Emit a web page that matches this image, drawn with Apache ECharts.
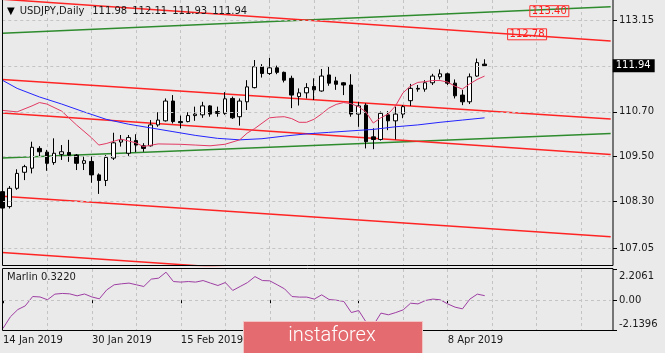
<!DOCTYPE html>
<html><head><meta charset="utf-8">
<script src="https://cdn.jsdelivr.net/npm/echarts@6/dist/echarts.min.js"></script>
<style>html,body{margin:0;padding:0;background:#eaeaea}#c{width:665px;height:353px}</style>
</head><body><div id="c"></div>
<script>
// ---------- data ----------
const symbol = 'USDJPY';
const period = 'Daily';
const barDates = ['14 Jan 2019','15 Jan 2019','16 Jan 2019','17 Jan 2019','18 Jan 2019','21 Jan 2019','22 Jan 2019','23 Jan 2019','24 Jan 2019','25 Jan 2019',
 '28 Jan 2019','29 Jan 2019','30 Jan 2019','31 Jan 2019','1 Feb 2019','4 Feb 2019','5 Feb 2019','6 Feb 2019','7 Feb 2019','8 Feb 2019',
 '11 Feb 2019','12 Feb 2019','13 Feb 2019','14 Feb 2019','15 Feb 2019','18 Feb 2019','19 Feb 2019','20 Feb 2019','21 Feb 2019','22 Feb 2019',
 '25 Feb 2019','26 Feb 2019','27 Feb 2019','28 Feb 2019','1 Mar 2019','4 Mar 2019','5 Mar 2019','6 Mar 2019','7 Mar 2019','8 Mar 2019',
 '11 Mar 2019','12 Mar 2019','13 Mar 2019','14 Mar 2019','15 Mar 2019','18 Mar 2019','19 Mar 2019','20 Mar 2019','21 Mar 2019','22 Mar 2019',
 '25 Mar 2019','26 Mar 2019','27 Mar 2019','28 Mar 2019','29 Mar 2019','1 Apr 2019','2 Apr 2019','3 Apr 2019','4 Apr 2019','5 Apr 2019',
 '8 Apr 2019','9 Apr 2019','10 Apr 2019','11 Apr 2019','12 Apr 2019','15 Apr 2019'];
const openP  = [108.56,108.16,108.65,109.08,109.19,109.72,109.62,109.34,109.56,109.61,109.54,109.32,109.37,109.01,108.86,109.46,109.89,109.59,109.93,109.79,
 109.79,110.35,110.46,110.99,110.44,110.44,110.60,110.62,110.86,110.71,110.66,111.06,110.57,110.97,111.35,111.91,111.73,111.88,111.76,111.60,
 111.11,111.21,111.38,111.26,111.69,111.53,111.48,111.42,110.64,110.88,110.03,109.96,110.62,110.46,110.64,111.00,111.33,111.31,111.48,111.64,
 111.72,111.47,111.15,110.97,111.66,111.98];
const highP  = [108.60,108.71,109.16,109.28,109.90,109.78,109.68,109.99,109.81,109.95,109.57,109.50,109.50,109.05,109.54,110.14,110.08,110.08,110.10,109.86,
 110.48,110.69,111.06,111.15,110.60,110.69,110.84,110.97,110.88,110.84,111.23,111.11,111.06,111.55,112.09,111.98,112.15,111.94,111.78,111.67,
 111.33,111.47,111.60,111.85,111.91,111.64,111.50,111.71,110.97,110.93,110.26,110.71,110.72,110.84,110.88,111.45,111.42,111.55,111.72,111.84,
 111.75,111.57,111.29,111.73,112.13,112.11];
const lowP   = [107.99,108.11,108.61,108.87,109.05,109.50,109.12,109.28,109.41,109.36,109.14,109.14,108.80,108.50,108.71,109.41,109.77,109.52,109.62,109.63,
 109.77,110.30,110.44,110.39,110.26,110.42,110.46,110.54,110.57,110.57,110.62,110.51,110.33,110.75,111.33,111.62,111.69,111.71,111.49,110.80,
 110.87,111.06,111.02,111.24,111.40,111.29,111.15,110.57,110.30,109.72,109.70,109.93,110.21,109.96,110.53,110.86,111.24,111.24,111.42,111.57,
 111.42,111.06,110.88,110.91,111.64,111.93];
const closeP = [108.12,108.65,109.05,109.23,109.75,109.63,109.32,109.59,109.63,109.54,109.32,109.39,109.01,108.86,109.48,109.87,109.95,110.01,109.81,109.72,
 110.35,110.48,110.99,110.44,110.41,110.60,110.64,110.86,110.64,110.66,111.05,110.54,110.99,111.37,111.91,111.73,111.88,111.76,111.55,111.15,
 111.21,111.35,111.29,111.66,111.47,111.44,111.42,110.64,110.86,109.90,109.96,110.66,110.46,110.64,110.84,111.33,111.31,111.48,111.66,111.72,
 111.47,111.13,110.97,111.64,112.02,111.94];
// moving averages: [bar index, price]
const maBlue = [[0,111.55],[2,111.33],[5,111.10],[8,110.91],[11,110.70],[14,110.50],[17,110.37],[20,110.27],[23,110.17],[26,110.07],[29,109.99],
 [32,109.95],[35,109.98],[38,110.05],[41,110.11],[44,110.15],[47,110.19],[50,110.23],[53,110.30],[56,110.35],[59,110.42],[62,110.48],[65,110.54]];
const maPink = [[0,110.74],[2,110.70],[4,110.86],[5,110.95],[6,110.91],[8,110.72],[10,110.35],[12,110.01],[13,109.81],[14,109.85],[16,109.97],[18,109.87],
 [19,109.77],[21,109.84],[24,109.83],[26,109.81],[28,109.79],[30,109.83],[32,109.95],[33,110.13],[34,110.25],[36,110.54],[37,110.56],[38,110.57],[39,110.52],
 [40,110.42],[41,110.42],[42,110.50],[43,110.64],[44,110.80],[45,110.90],[46,110.95],[47,110.92],[48,110.84],[49,110.70],[50,110.40],[51,110.54],[52,110.64],
 [53,110.86],[54,111.21],[55,111.39],[56,111.49],[57,111.51],[58,111.54],[59,111.54],[60,111.50],[61,111.39],[62,111.31],[63,111.45],[64,111.57],[65,111.66]];
// trend lines: two end points [bar index, price]
const redLineA = [[0,113.72],[82,112.60]];
const redLineB = [[0,111.57],[82,110.51]];
const redLineC = [[0,110.67],[82,109.56]];
const redLineD = [[0,108.44],[82,107.35]];
const redLineE = [[0,106.93],[82,105.82]];
const greenLineA = [[0,112.81],[82,113.52]];
const greenLineB = [[0,109.46],[82,110.12]];
const priceTags = [[74,113.40],[71,112.78]];
// indicator
const marlin = [-1.99,-1.17,-0.66,-0.40,0.26,0.23,0.03,0.43,0.48,0.45,0.31,0.44,0.23,0.10,0.73,1.09,1.16,1.21,1.09,0.97,
 1.49,1.56,1.98,1.32,1.28,1.32,1.28,1.39,1.21,1.04,1.25,0.69,0.97,1.25,1.67,1.39,1.37,1.09,0.80,0.26,
 0.22,0.22,0.08,0.38,0.05,0.00,-0.09,-0.87,-0.73,-1.55,-1.75,-0.91,-1.03,-0.87,-0.68,-0.21,-0.26,-0.02,0.08,0.03,
 -0.26,-0.49,-0.61,0.08,0.43,0.322];
// axes
const yTickLabels = [113.15,110.70,109.50,108.30,107.05];
const yGridLevels = [113.15,111.93,110.70,109.50,108.30,107.05];
const marlinTicks = [2.2061,0,-2.1396];
const futureSlots = 17;

// ---------- chart ----------
const FONT = 'DejaVu Sans', TXT = '#1a1a1a', GRIDC = '#c4c4c4';
const cats = barDates.concat(Array.from({length: futureSlots}, (_, k) => '+' + (k + 1)));
const ohlc = barDates.map((d, i) => [openP[i], closeP[i], lowP[i], highP[i]]);
const last = barDates.length - 1;
const f2 = v => v.toFixed(2);
const gridL = 2.3, gridRpx = 610.7, axisOff = 2.3;
const txt = {fontFamily: FONT, fontSize: 10, fontWeight: 'normal', color: TXT};

function trend(data, color) {
  return {type: 'line', xAxisIndex: 0, yAxisIndex: 0, data: data, showSymbol: false, silent: true, z: 2,
    lineStyle: {color: color, width: 1.5}, clip: true};
}

const option = {
  backgroundColor: '#eaeaea',
  animation: false,
  title: [
    {left: 7, top: 6, padding: 0,
      text: '{tri|▼}\u2002{t|' + symbol + ',' + period + '} \u2002{t|' + [openP[last], highP[last], lowP[last], closeP[last]].map(f2).join('\u2002') + '}',
      textStyle: {fontWeight: 'normal', fontSize: 10, rich: {tri: {fontFamily: FONT, fontSize: 10, fontWeight: 'normal', color: '#000'}, t: txt}}},
    {left: 7, top: 272, padding: 0, text: 'Marlin ' + marlin[last].toFixed(4), textStyle: txt}
  ],
  grid: [
    {left: gridL, right: 665 - gridRpx, top: 0, height: 265.5},
    {left: gridL, right: 665 - gridRpx, top: 269, height: 61.5}
  ],
  xAxis: [
    {type: 'category', gridIndex: 0, data: cats, boundaryGap: false, axisLine: {show: false}, axisTick: {show: false}, axisLabel: {show: false},
      splitLine: {show: true, interval: (i) => i > 0 && i % 6 === 0, lineStyle: {type: [3, 3], color: GRIDC}}},
    {type: 'category', gridIndex: 1, data: cats, boundaryGap: false, axisLine: {show: false},
      axisTick: {show: true, interval: (i) => i % 12 === 0 && i <= last, length: 3, lineStyle: {color: '#000'}},
      axisLabel: {show: true, interval: (i) => i % 12 === 0 && i <= last, align: 'left', margin: 5, fontFamily: FONT, fontSize: 10, color: TXT},
      splitLine: {show: true, interval: (i) => i > 0 && i % 6 === 0, lineStyle: {type: [3, 3], color: GRIDC}}}
  ],
  yAxis: [
    {type: 'value', gridIndex: 0, position: 'right', offset: axisOff, min: 106.58, max: 113.70, scale: true,
      axisLine: {show: false}, splitLine: {show: false},
      axisTick: {show: true, customValues: yTickLabels, length: 4, lineStyle: {color: '#000'}},
      axisLabel: {show: true, customValues: yTickLabels, formatter: v => v.toFixed(2), margin: 6, fontFamily: FONT, fontSize: 10, color: TXT}},
    {type: 'value', gridIndex: 1, position: 'right', offset: axisOff, min: marlinTicks[2], max: marlinTicks[0],
      axisLine: {show: false}, splitLine: {show: false},
      axisTick: {show: true, customValues: marlinTicks, length: 4, lineStyle: {color: '#000'}},
      axisLabel: {show: true, customValues: marlinTicks, margin: 6, fontFamily: FONT, fontSize: 10, color: TXT,
        formatter: v => v > 0 ? '{t|' + v.toFixed(4) + '}' : (v < 0 ? '{b|' + v.toFixed(4) + '}' : v.toFixed(2)),
        rich: {t: {padding: [14, 0, 0, 0], fontFamily: FONT, fontSize: 10, color: TXT}, b: {padding: [0, 0, 13, 0], fontFamily: FONT, fontSize: 10, color: TXT}}}}
  ],
  series: [
    {type: 'line', xAxisIndex: 0, yAxisIndex: 0, data: [], z: 1, silent: true,
      markLine: {silent: true, symbol: 'none', label: {show: false}, lineStyle: {type: [3, 3], color: GRIDC, width: 1},
        data: yGridLevels.map(v => ({yAxis: v}))}},
    {type: 'line', xAxisIndex: 1, yAxisIndex: 1, data: [], z: 1, silent: true,
      markLine: {silent: true, symbol: 'none', label: {show: false}, lineStyle: {type: [3, 3], color: GRIDC, width: 1},
        data: [{yAxis: 0}]}},
    trend(greenLineA, '#2e8b2e'), trend(greenLineB, '#2e8b2e'),
    trend(redLineA, '#ff2424'), trend(redLineB, '#ff2424'), trend(redLineC, '#ff2424'), trend(redLineD, '#ff2424'), trend(redLineE, '#ff2424'),
    {type: 'candlestick', xAxisIndex: 0, yAxisIndex: 0, data: ohlc, barWidth: 4, z: 3, clip: true,
      itemStyle: {color: '#ffffff', color0: '#000000', borderColor: '#000000', borderColor0: '#000000', borderWidth: 1}},
    {type: 'line', xAxisIndex: 0, yAxisIndex: 0, data: [], z: 6, silent: true,
      markLine: {silent: true, symbol: 'none', lineStyle: {width: 0, color: 'rgba(0,0,0,0)'},
        label: {show: true, position: 'end', distance: 2, formatter: () => f2(closeP[last]), color: '#ffffff', backgroundColor: '#000000',
          padding: [2, 4, 1, 3], fontFamily: FONT, fontSize: 10},
        data: [{yAxis: closeP[last]}]}},
    {type: 'line', xAxisIndex: 0, yAxisIndex: 0, data: maBlue, showSymbol: false, z: 4, lineStyle: {color: '#2424ff', width: 1}},
    {type: 'line', xAxisIndex: 0, yAxisIndex: 0, data: maPink, showSymbol: false, z: 4, lineStyle: {color: '#e23a63', width: 1}},
    {type: 'line', xAxisIndex: 0, yAxisIndex: 0, data: [], z: 7, silent: true,
      markPoint: {silent: true, symbol: 'rect', symbolSize: 1, itemStyle: {color: 'rgba(0,0,0,0)'},
        label: {show: true, position: 'inside', offset: [-2, 0], formatter: p => f2(p.data.coord[1]), color: '#ff1a1a',
          borderColor: '#ff3030', borderWidth: 1, padding: [1, 2, 0, 2], fontFamily: FONT, fontSize: 10},
        data: priceTags.map(t => ({coord: t}))}},
    {type: 'line', xAxisIndex: 1, yAxisIndex: 1, data: marlin, showSymbol: false, z: 4, lineStyle: {color: '#9e3ea3', width: 1}}
  ],
  graphic: [
    {type: 'rect', z: 50, silent: true, shape: {x: 2.5, y: -1, width: 610.5, height: 266.5}, style: {fill: 'none', stroke: '#000', lineWidth: 1}},
    {type: 'rect', z: 50, silent: true, shape: {x: 2.5, y: 268.5, width: 610.5, height: 62}, style: {fill: 'none', stroke: '#000', lineWidth: 1}},
    {type: 'rect', z: 100, silent: true, shape: {x: 243.5, y: 321.5, width: 179, height: 40}, style: {fill: '#e46c70', stroke: '#f2c4c4', lineWidth: 1}},
    {type: 'text', z: 101, silent: true, x: 332, y: 336, style: {text: 'instaforex', fill: '#ffffff', fontFamily: 'Roboto', fontWeight: 300, fontSize: 20, align: 'center', verticalAlign: 'middle'}}
  ]
};
const chart = echarts.init(document.getElementById('c'));
chart.setOption(option);
</script>
</body></html>
